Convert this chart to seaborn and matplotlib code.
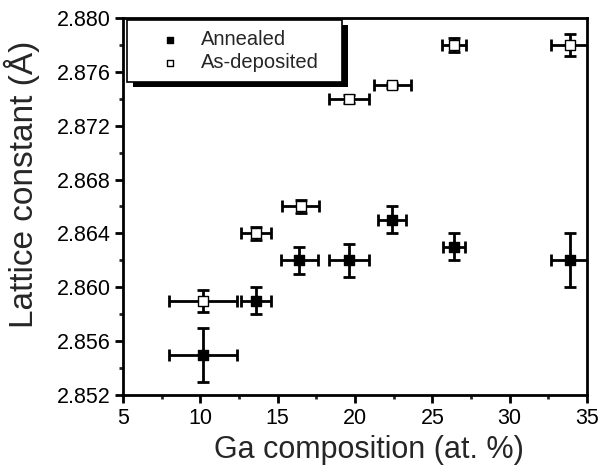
import matplotlib
matplotlib.use("Agg")
import matplotlib.pyplot as plt
import seaborn as sns
import pandas as pd
from matplotlib.ticker import MultipleLocator, FormatStrFormatter
from matplotlib.patches import Rectangle
from matplotlib.transforms import IdentityTransform

# Data
ga_ann = [10.2, 13.6, 16.4, 19.6, 22.4, 26.4, 33.9]
lat_ann = [2.855, 2.859, 2.862, 2.862, 2.865, 2.863, 2.862]
xerr_ann = [2.2, 1.0, 1.2, 1.3, 0.9, 0.7, 1.2]
yerr_ann = [0.002, 0.001, 0.001, 0.0012, 0.001, 0.001, 0.002]

ga_dep = [10.2, 13.6, 16.5, 19.6, 22.4, 26.4, 33.9]
lat_dep = [2.859, 2.864, 2.866, 2.874, 2.875, 2.878, 2.878]
xerr_dep = [2.2, 1.0, 1.2, 1.3, 1.2, 0.8, 1.2]
yerr_dep = [0.0008, 0.0005, 0.0005, 0.0003, 0.0002, 0.0005, 0.0008]

series = ["Annealed", "As-deposited"]

df = pd.DataFrame({
    "ga": ga_ann + ga_dep,
    "lat": lat_ann + lat_dep,
    "series": [series[0]] * len(ga_ann) + [series[1]] * len(ga_dep),
})

sns.set_style("ticks")
plt.rcParams['font.family'] = ['Liberation Sans', 'DejaVu Sans']

fig = plt.figure(figsize=(6.08, 4.73), dpi=100)
ax = fig.add_axes([0.2023, 0.1649, 0.7632, 0.7971])

# error bars
ax.errorbar(ga_ann, lat_ann, xerr=xerr_ann, yerr=yerr_ann, fmt='none',
            ecolor='black', elinewidth=2, capsize=4, capthick=2, zorder=2)
ax.errorbar(ga_dep, lat_dep, xerr=xerr_dep, yerr=yerr_dep, fmt='none',
            ecolor='black', elinewidth=2, capsize=4, capthick=2, zorder=2)

sns.scatterplot(data=df[df.series == series[0]], x="ga", y="lat", marker='s', s=45,
                color='black', edgecolor='black', linewidth=1, ax=ax, zorder=3,
                label=series[0])
sns.scatterplot(data=df[df.series == series[1]], x="ga", y="lat", marker='s', s=45,
                color='white', edgecolor='black', linewidth=1, ax=ax, zorder=3,
                label=series[1])

ax.set_xlim(5, 35)
ax.set_ylim(2.852, 2.880)
ax.xaxis.set_major_locator(MultipleLocator(5))
ax.xaxis.set_minor_locator(MultipleLocator(2.5))
ax.yaxis.set_major_locator(MultipleLocator(0.004))
ax.yaxis.set_minor_locator(MultipleLocator(0.002))
ax.yaxis.set_major_formatter(FormatStrFormatter('%.3f'))

for s in ax.spines.values():
    s.set_linewidth(2)
    s.set_color('black')
ax.tick_params(which='major', direction='out', length=6, width=2, labelsize=15.5,
               colors='black', pad=3)
ax.tick_params(which='minor', direction='out', length=3, width=2)

ax.set_xlabel("Ga composition (at. %)", fontsize=22)
ax.set_ylabel("Lattice constant (Å)", fontsize=24)
ax.xaxis.set_label_coords(0.53, -0.105)
ax.yaxis.set_label_coords(-0.178, 0.56)

leg = ax.legend(loc='upper left', bbox_to_anchor=(0.009, 0.995), borderaxespad=0.0,
                frameon=False, fontsize=14.5, markerscale=0.6, handletextpad=-0.15,
                borderpad=0.5, labelspacing=0.2, handlelength=3.3)
leg.set_zorder(7)

# legend frame with hard offset shadow
fig.canvas.draw()
bb = leg.get_window_extent()
extra_right = 13
shadow = Rectangle((bb.x0 + 6, bb.y0 - 5), bb.width + extra_right, bb.height,
                   transform=IdentityTransform(), facecolor='black', edgecolor='none',
                   zorder=5.5, clip_on=False)
frame = Rectangle((bb.x0, bb.y0), bb.width + extra_right, bb.height,
                  transform=IdentityTransform(), facecolor='white', edgecolor='black',
                  linewidth=1.2, zorder=6, clip_on=False)
ax.add_patch(shadow)
ax.add_patch(frame)

fig.savefig("out.png", dpi=100)
